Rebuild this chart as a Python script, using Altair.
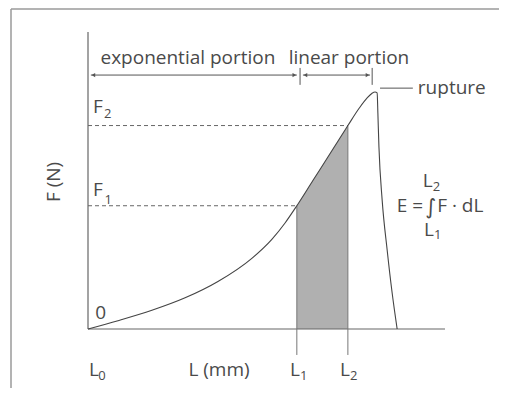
import altair as alt
import pandas as pd

# ---- data (arbitrary units: L 0..10, F 0..10) ----
curve_L = [0, 0.84, 1.79, 2.72, 3.64, 4.59, 5.15, 5.52, 5.85, 6.30, 6.80, 7.28, 7.60, 7.82, 7.95, 8.04, 8.10, 8.12, 8.15, 8.24, 8.38, 8.52, 8.66]
curve_F = [0, 0.28, 0.63, 1.05, 1.60, 2.38, 3.02, 3.57, 4.15, 5.00, 5.94, 6.85, 7.44, 7.78, 7.93, 7.98, 7.95, 7.27, 6.13, 4.34, 2.66, 1.21, 0]
L1, L2 = 5.85, 7.28
F1, F2 = 4.15, 6.85

TXT = "#4a4a4a"
LINE = "#555555"
FONT = "Open Sans"

xs = alt.Scale(domain=[-2.241, 11.513], nice=False, zero=False)
ys = alt.Scale(domain=[-1.987, 10.808], nice=False, zero=False)

def X(f="x"):
    return alt.X(f"{f}:Q", scale=xs, axis=None)

def Y(f="y"):
    return alt.Y(f"{f}:Q", scale=ys, axis=None)

curve = pd.DataFrame({"x": curve_L, "y": curve_F, "o": list(range(len(curve_L)))})
shade = pd.DataFrame({"x": [L1, L2], "y": [F1, F2]})

def segs(rows):
    return pd.DataFrame(rows, columns=["x", "y", "x2", "y2"])

frame = segs([[-2.157, 10.774, 11.513, 10.774], [-2.157, -1.987, -2.157, 10.774]])
axes = segs([[0, 0, 10, 0], [0, 0, 0, 10]])
dashed = segs([[0, F1, L1, F1], [0, F2, L2, F2]])
lrules = segs([[L1, -0.875, L1, F1], [L2, -0.875, L2, F2]])
arrows = segs([[0.08, 8.55, 5.85, 8.55], [6.02, 8.55, 7.90, 8.55],
               [5.94, 8.22, 5.94, 8.79], [7.96, 8.22, 7.96, 8.79],
               [8.18, 8.11, 9.10, 8.11]])
heads = pd.DataFrame({"x": [0.15, 5.78, 6.09, 7.83], "y": [8.55] * 4,
                      "s": ["triangle-left", "triangle-right", "triangle-left", "triangle-right"]})

main_txt = pd.DataFrame({
    "t": ["exponential portion", "linear portion", "L (mm)"],
    "x": [2.80, 7.31, 3.67], "y": [9.12, 9.12, -1.38]})
left_txt = pd.DataFrame({
    "t": ["rupture", "F", "F", "0", "L", "L", "L", "E =", "F · dL", "L", "L"],
    "x": [9.24, 0.14, 0.14, 0.20, 0.03, 5.66, 7.06, 8.65, 9.78, 9.38, 9.41],
    "y": [8.11, 7.47, 4.68, 0.54, -1.38, -1.38, -1.38, 4.14, 4.14, 4.99, 3.33]})
sub_txt = pd.DataFrame({
    "t": ["2", "1", "0", "1", "2", "2", "1"],
    "x": [0.45, 0.46, 0.29, 5.94, 7.34, 9.66, 9.69],
    "y": [7.24, 4.34, -1.58, -1.58, -1.58, 4.78, 3.16]})
integ = pd.DataFrame({"t": ["∫"], "x": [9.61], "y": [4.07]})
ylab = pd.DataFrame({"t": ["F (N)"], "x": [-0.95], "y": [4.95]})


def rule(df, **kw):
    return alt.Chart(df).mark_rule(**kw).encode(x=X(), y=Y(), x2="x2:Q", y2="y2:Q")

layers = [
    alt.Chart(shade).mark_area(color="#b0b0b0", opacity=1).encode(x=X(), y=Y(), y2=alt.datum(0)),
    rule(frame, color="#9a9a9a", strokeWidth=1.5),
    rule(axes, color="#666666", strokeWidth=1.2),
    rule(dashed, color="#666666", strokeWidth=1, strokeDash=[4, 3]),
    rule(lrules, color="#777777", strokeWidth=1),
    rule(arrows, color=LINE, strokeWidth=1),
    alt.Chart(heads).mark_point(filled=True, size=18, color=LINE, opacity=1).encode(
        x=X(), y=Y(), shape=alt.Shape("s:N", scale=None)),
    alt.Chart(curve).mark_line(color="#444444", strokeWidth=1.1, interpolate="monotone").encode(
        x=X(), y=Y(), order="o:Q"),
    alt.Chart(main_txt).mark_text(font=FONT, fontSize=19, color=TXT, align="center", baseline="middle").encode(
        x=X(), y=Y(), text="t:N"),
    alt.Chart(left_txt).mark_text(font=FONT, fontSize=19, color=TXT, align="left", baseline="middle").encode(
        x=X(), y=Y(), text="t:N"),
    alt.Chart(sub_txt).mark_text(font=FONT, fontSize=13, color=TXT, align="left", baseline="middle").encode(
        x=X(), y=Y(), text="t:N"),
    alt.Chart(integ).mark_text(font="DejaVu Sans", fontSize=21, color=TXT, align="center", baseline="middle").encode(
        x=X(), y=Y(), text="t:N"),
    alt.Chart(ylab).mark_text(font=FONT, fontSize=19, color=TXT, align="center", baseline="middle", angle=270).encode(
        x=X(), y=Y(), text="t:N"),
]

chart = alt.layer(*layers).properties(
    width=491, height=380, padding=0, autosize="none", background="#ffffff"
).configure_view(stroke=None)

chart.save("out.html", embed_options={"renderer": "svg", "actions": False})
